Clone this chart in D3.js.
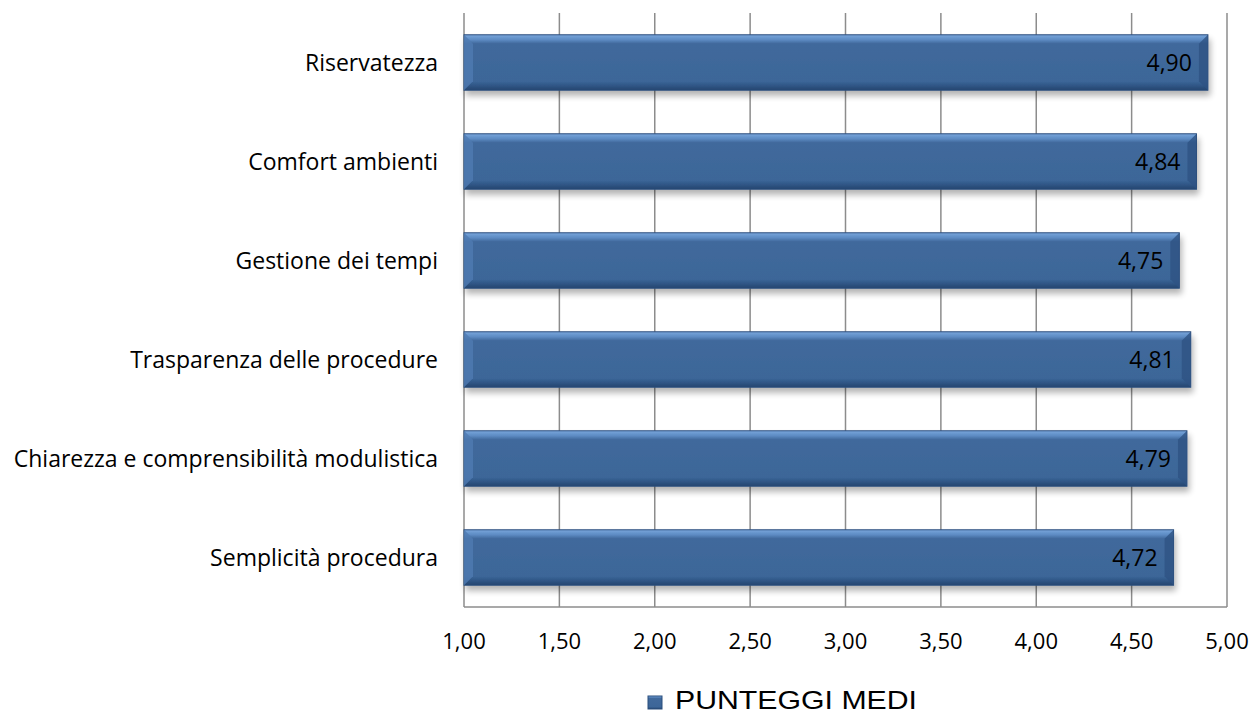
<!DOCTYPE html>
<html>
<head>
<meta charset="utf-8">
<script src="https://cdn.jsdelivr.net/npm/d3@7"></script>
<style>
  body { margin: 0; background: #fff; }
  svg { display: block; }
</style>
</head>
<body>
<div id="chart"></div>
<script>
// categories listed top to bottom as in the chart
var categories = ["Riservatezza", "Comfort ambienti", "Gestione dei tempi",
                  "Trasparenza delle procedure", "Chiarezza e comprensibilità modulistica",
                  "Semplicità procedura"];
var punteggi = [4.90, 4.84, 4.75, 4.81, 4.79, 4.72];
var ticks = [1.0, 1.5, 2.0, 2.5, 3.0, 3.5, 4.0, 4.5, 5.0];
var seriesName = "PUNTEGGI MEDI";

var width = 1256, height = 716;
var plotL = 464, plotR = 1227, plotT = 13, plotB = 607;
var font = "'Open Sans', Lato, sans-serif";

var fmt = function(v){ return v.toFixed(2).replace(".", ","); };

var svg = d3.select("#chart").append("svg")
    .attr("width", width)
    .attr("height", height);

var defs = svg.append("defs");

var grad = defs.append("linearGradient")
    .attr("id", "barGrad")
    .attr("x1", 0).attr("y1", 0).attr("x2", 0).attr("y2", 1);
grad.append("stop").attr("offset", "0%").attr("stop-color", "#79a6dc");
grad.append("stop").attr("offset", "9%").attr("stop-color", "#5d8bc3");
grad.append("stop").attr("offset", "16%").attr("stop-color", "#41699c");
grad.append("stop").attr("offset", "84%").attr("stop-color", "#3c6698");
grad.append("stop").attr("offset", "92%").attr("stop-color", "#2f5585");
grad.append("stop").attr("offset", "100%").attr("stop-color", "#26466f");

var shadow = defs.append("filter").attr("id", "shadow")
    .attr("x", "-5%").attr("y", "-20%").attr("width", "110%").attr("height", "160%");
shadow.append("feGaussianBlur").attr("in", "SourceAlpha").attr("stdDeviation", 3);
shadow.append("feOffset").attr("dx", 2).attr("dy", 5).attr("result", "b");
shadow.append("feComponentTransfer").append("feFuncA").attr("type", "linear").attr("slope", 0.3);
var merge = shadow.append("feMerge");
merge.append("feMergeNode");
merge.append("feMergeNode").attr("in", "SourceGraphic");

var x = d3.scaleLinear().domain([1, 5]).range([plotL, plotR]);
var y = d3.scaleBand().domain(categories).range([plotT, plotB]).paddingInner(0.44).paddingOuter(0.22);

// gridlines
svg.append("g").selectAll("line")
    .data(ticks)
    .enter().append("line")
    .attr("x1", function(d){ return x(d); })
    .attr("x2", function(d){ return x(d); })
    .attr("y1", plotT).attr("y2", plotB)
    .attr("stroke", "#8c8c8c")
    .attr("stroke-width", 1.5);

svg.append("line")
    .attr("x1", plotL).attr("x2", plotR)
    .attr("y1", plotB).attr("y2", plotB)
    .attr("stroke", "#8c8c8c").attr("stroke-width", 1.5);

// bars
var bars = svg.append("g").selectAll(".bar")
    .data(categories)
    .enter().append("g")
    .attr("class", "bar");

bars.append("rect")
    .attr("x", plotL)
    .attr("y", function(d){ return y(d); })
    .attr("width", function(d, i){ return x(punteggi[i]) - plotL; })
    .attr("height", y.bandwidth())
    .attr("fill", "url(#barGrad)")
    .attr("stroke", "#2b4e7c")
    .attr("stroke-width", 1)
    .attr("filter", "url(#shadow)");

// bevel corners
bars.append("path")
    .attr("d", function(d){
        var y0 = y(d), h = y.bandwidth();
        return "M" + plotL + "," + y0 + "L" + (plotL + 9) + "," + (y0 + 9) +
               "L" + (plotL + 9) + "," + (y0 + h - 9) + "L" + plotL + "," + (y0 + h) + "Z";
    })
    .attr("fill", "#4f7bb2").attr("opacity", 0.8);

bars.append("path")
    .attr("d", function(d, i){
        var y0 = y(d), h = y.bandwidth(), xe = x(punteggi[i]);
        return "M" + xe + "," + y0 + "L" + (xe - 9) + "," + (y0 + 9) +
               "L" + (xe - 9) + "," + (y0 + h - 9) + "L" + xe + "," + (y0 + h) + "Z";
    })
    .attr("fill", "#2e5283").attr("opacity", 0.8);

// value labels
bars.append("text")
    .attr("x", function(d, i){ return x(punteggi[i]) - 16; })
    .attr("y", function(d){ return y(d) + y.bandwidth() / 2 + 8; })
    .attr("text-anchor", "end")
    .attr("font-family", font)
    .attr("font-size", 23)
    .attr("fill", "#000")
    .text(function(d, i){ return fmt(punteggi[i]); });

// category labels
svg.append("g").selectAll("text")
    .data(categories)
    .enter().append("text")
    .attr("x", plotL - 26)
    .attr("y", function(d){ return y(d) + y.bandwidth() / 2 + 8; })
    .attr("text-anchor", "end")
    .attr("font-family", font)
    .attr("font-size", 23)
    .attr("fill", "#000")
    .text(function(d){ return d; });

// tick labels
svg.append("g").selectAll("text")
    .data(ticks)
    .enter().append("text")
    .attr("x", function(d){ return x(d); })
    .attr("y", 649)
    .attr("text-anchor", "middle")
    .attr("font-family", font)
    .attr("font-size", 22)
    .attr("fill", "#000")
    .text(function(d){ return fmt(d); });

// legend
var legend = svg.append("g");
legend.append("rect")
    .attr("x", 648).attr("y", 696)
    .attr("width", 14).attr("height", 13)
    .attr("fill", "url(#barGrad)")
    .attr("stroke", "#2b4e7c");
legend.append("text")
    .attr("x", 675).attr("y", 709)
    .attr("font-family", "'Liberation Sans', Arial, sans-serif")
    .attr("font-size", 25)
    .attr("textLength", 242)
    .attr("lengthAdjust", "spacingAndGlyphs")
    .attr("fill", "#000")
    .text(seriesName);
</script>
</body>
</html>
